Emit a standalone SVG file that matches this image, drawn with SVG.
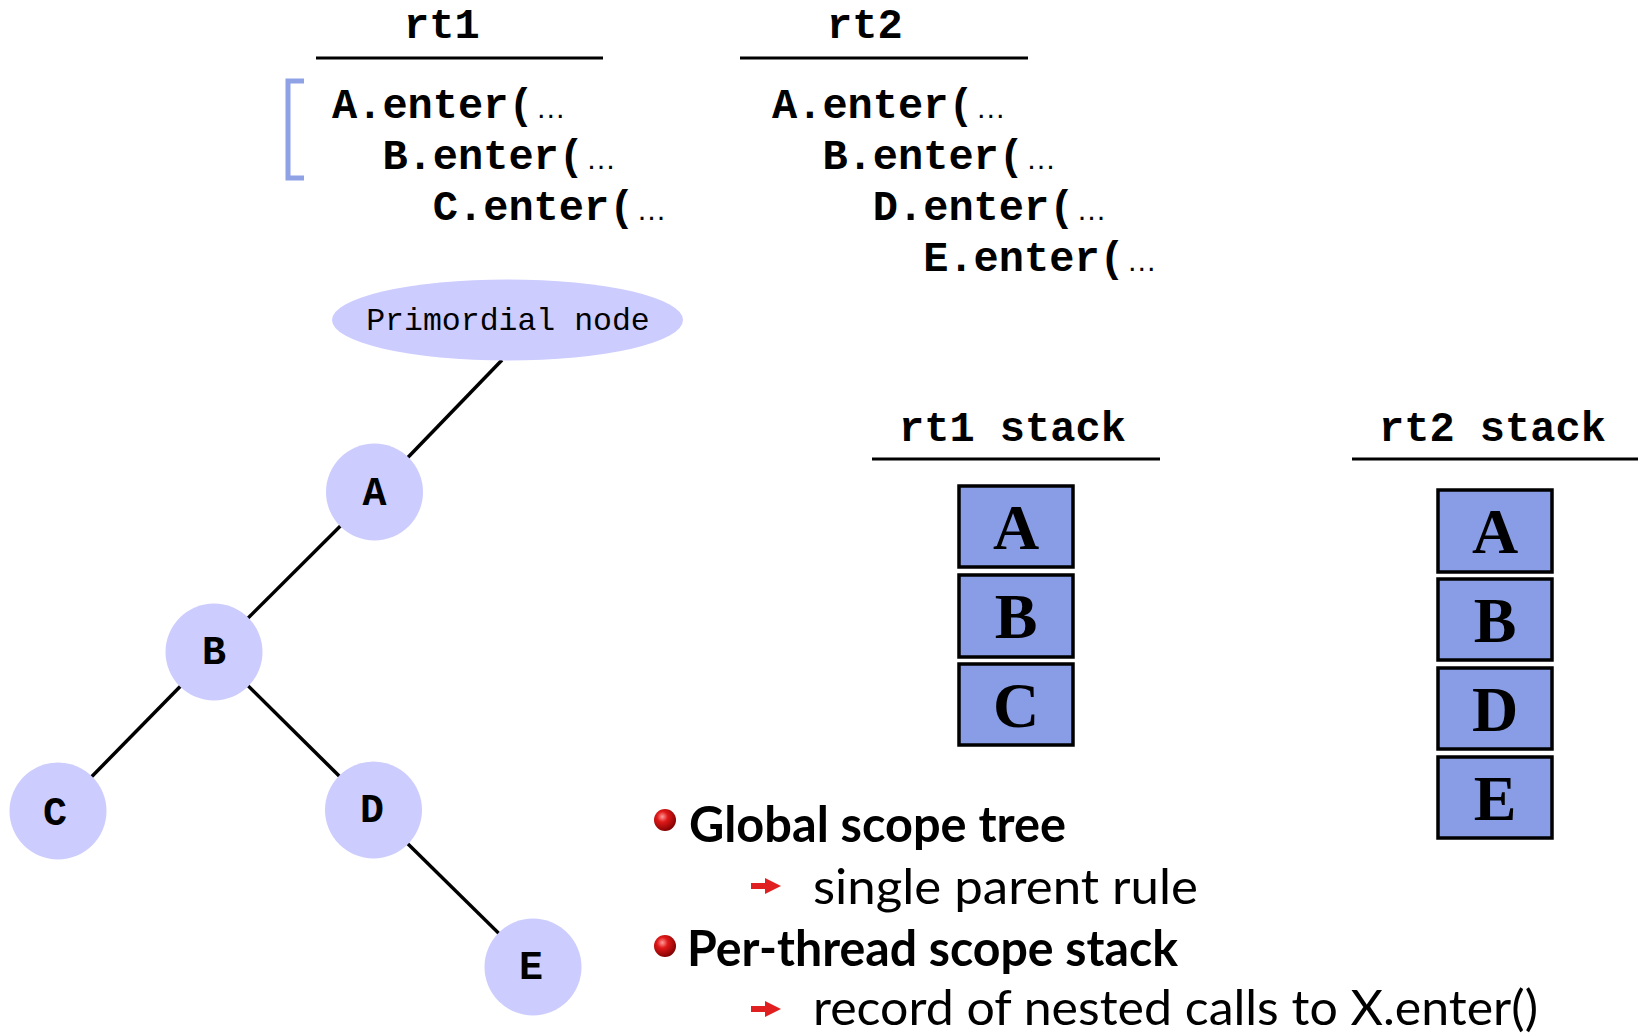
<svg xmlns="http://www.w3.org/2000/svg" width="1638" height="1034" viewBox="0 0 1638 1034">
<style>
.code{font-family:"Liberation Mono","Courier New",monospace;font-weight:bold;font-size:42px;fill:#000}
.ell{font-family:"Liberation Sans",Arial,sans-serif;font-weight:normal;font-size:30px}
.rule{stroke:#000;stroke-width:3;fill:none}
.tnode{fill:#ccccff}
.tlabel{font-family:"Liberation Mono","Courier New",monospace;font-weight:bold;font-size:40px;text-anchor:middle;fill:#000}
.edge{stroke:#000;stroke-width:3.5;fill:none}
.box{fill:#889de6;stroke:#000;stroke-width:3.5}
.blabel{font-family:"Liberation Serif","Times New Roman",serif;font-weight:bold;font-size:64px;text-anchor:middle;fill:#000}
.head{font-family:Lato,"Open Sans",sans-serif;font-weight:bold;font-size:50px;fill:#000}
.sub{font-family:Lato,"Open Sans",sans-serif;font-weight:normal;font-size:49px;fill:#000}
</style>
<defs>
<radialGradient id="ball" cx="0.38" cy="0.35" r="0.7">
<stop offset="0" stop-color="#ff9a9a"/>
<stop offset="0.35" stop-color="#e01818"/>
<stop offset="1" stop-color="#7a0000"/>
</radialGradient>
<symbol id="arrow" viewBox="0 0 30 16" width="30" height="16" overflow="visible">
<polygon points="0,5 14,5 14,0 30,8 14,16 14,11 0,11" fill="#e02020"/>
</symbol>
</defs>

<g id="rt1-code">
<text class="code" x="404" y="38">rt1</text>
<line class="rule" x1="316" y1="58" x2="603" y2="58"/>
<path d="M304,81 H288 V178 H304" fill="none" stroke="#8fa2e6" stroke-width="5"/>
<text class="code" x="332" y="118">A.enter(<tspan class="ell" dx="2">…</tspan></text>
<text class="code" x="382.4" y="169">B.enter(<tspan class="ell" dx="2">…</tspan></text>
<text class="code" x="432.8" y="220">C.enter(<tspan class="ell" dx="2">…</tspan></text>
</g>

<g id="rt2-code">
<text class="code" x="827" y="38">rt2</text>
<line class="rule" x1="740" y1="58" x2="1028" y2="58"/>
<text class="code" x="772" y="118">A.enter(<tspan class="ell" dx="2">…</tspan></text>
<text class="code" x="822.4" y="169">B.enter(<tspan class="ell" dx="2">…</tspan></text>
<text class="code" x="872.8" y="220">D.enter(<tspan class="ell" dx="2">…</tspan></text>
<text class="code" x="923.2" y="271">E.enter(<tspan class="ell" dx="2">…</tspan></text>
</g>

<g id="connectors">
<line class="edge" x1="502" y1="360" x2="374.5" y2="492"/>
<line class="edge" x1="374.5" y1="492" x2="214" y2="652"/>
<line class="edge" x1="214" y1="652" x2="58" y2="811"/>
<line class="edge" x1="214" y1="652" x2="373.5" y2="810"/>
<line class="edge" x1="373.5" y1="810" x2="533" y2="967"/>
</g>

<g id="node-primordial">
<ellipse class="tnode" cx="507.5" cy="320" rx="175.5" ry="40.5"/>
<text x="508" y="330" text-anchor="middle" font-family="'Liberation Mono','Courier New',monospace" font-size="31.5">Primordial node</text>
</g>
<g id="node-A"><circle class="tnode" cx="374.5" cy="492" r="48.5"/><text class="tlabel" x="374.5" y="505">A</text></g>
<g id="node-B"><circle class="tnode" cx="214" cy="652" r="48.5"/><text class="tlabel" x="214" y="664">B</text></g>
<g id="node-C"><circle class="tnode" cx="58" cy="811" r="48.5"/><text class="tlabel" x="55" y="825">C</text></g>
<g id="node-D"><circle class="tnode" cx="373.5" cy="810" r="48.5"/><text class="tlabel" x="372" y="822">D</text></g>
<g id="node-E"><circle class="tnode" cx="533" cy="967" r="48.5"/><text class="tlabel" x="531" y="979">E</text></g>

<g id="rt1-stack">
<text class="code" x="899" y="441">rt1 stack</text>
<line class="rule" x1="872" y1="459" x2="1160" y2="459"/>
<rect class="box" x="959" y="486" width="114" height="81"/>
<text class="blabel" x="1016" y="549">A</text>
<rect class="box" x="959" y="575" width="114" height="82"/>
<text class="blabel" x="1016" y="638">B</text>
<rect class="box" x="959" y="664" width="114" height="81"/>
<text class="blabel" x="1016" y="727">C</text>
</g>

<g id="rt2-stack">
<text class="code" x="1379" y="441">rt2 stack</text>
<line class="rule" x1="1352" y1="459" x2="1638" y2="459"/>
<rect class="box" x="1438" y="490" width="114" height="82"/>
<text class="blabel" x="1495" y="553">A</text>
<rect class="box" x="1438" y="579" width="114" height="81"/>
<text class="blabel" x="1495" y="642">B</text>
<rect class="box" x="1438" y="668" width="114" height="81"/>
<text class="blabel" x="1495" y="731">D</text>
<rect class="box" x="1438" y="757" width="114" height="81"/>
<text class="blabel" x="1495" y="820">E</text>
</g>

<g id="bullets">
<circle cx="665" cy="820" r="11" fill="url(#ball)"/>
<text class="head" x="689" y="842" textLength="377" lengthAdjust="spacingAndGlyphs">Global scope tree</text>
<use href="#arrow" x="751" y="878"/>
<text class="sub" x="813" y="904" textLength="385" lengthAdjust="spacingAndGlyphs">single parent rule</text>
<circle cx="665" cy="946" r="11" fill="url(#ball)"/>
<text class="head" x="687" y="966" textLength="491" lengthAdjust="spacingAndGlyphs">Per-thread scope stack</text>
<use href="#arrow" x="751" y="1001"/>
<text class="sub" x="813" y="1025" textLength="725" lengthAdjust="spacingAndGlyphs">record of nested calls to X.enter()</text>
</g>
</svg>
